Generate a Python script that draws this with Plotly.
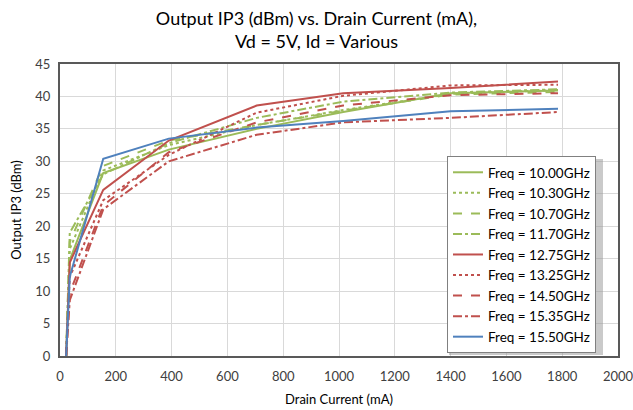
import plotly.graph_objects as go

drain_ma = [22, 35, 155, 390, 705, 1015, 1400, 1785]

series_names = ["Freq = 10.00GHz", "Freq = 10.30GHz", "Freq = 10.70GHz", "Freq = 11.70GHz",
                "Freq = 12.75GHz", "Freq = 13.25GHz", "Freq = 14.50GHz", "Freq = 15.35GHz",
                "Freq = 15.50GHz"]

ip3_1000 = [0, 14.8, 28.2, 31.8, 35.0, 37.6, 40.5, 40.9]
ip3_1030 = [0, 16.5, 28.6, 32.5, 35.6, 37.9, 40.4, 41.0]
ip3_1070 = [0, 17.6, 29.3, 33.2, 35.6, 37.8, 40.3, 40.7]
ip3_1170 = [0, 19.0, 28.0, 32.8, 36.7, 39.2, 40.6, 41.1]
ip3_1275 = [0, 14.4, 25.6, 33.2, 38.6, 40.5, 41.3, 42.3]
ip3_1325 = [0, 12.2, 24.0, 31.0, 37.5, 40.1, 41.7, 41.8]
ip3_1450 = [0, 9.7, 23.2, 31.4, 36.0, 38.6, 40.2, 40.5]
ip3_1535 = [0, 8.6, 22.6, 30.0, 34.1, 36.0, 36.7, 37.6]
ip3_1550 = [0, 12.2, 30.4, 33.5, 35.2, 36.2, 37.7, 38.1]

all_values = [ip3_1000, ip3_1030, ip3_1070, ip3_1170, ip3_1275, ip3_1325, ip3_1450, ip3_1535, ip3_1550]

GREEN = "#9BBB59"
RED = "#C0504D"
BLUE = "#4F81BD"
colors = [GREEN, GREEN, GREEN, GREEN, RED, RED, RED, RED, BLUE]
dashes = ["solid", "dot", "dash", "dashdot", "solid", "dot", "dash", "dashdot", "solid"]

fig = go.Figure()
for name, vals, c, d in zip(series_names, all_values, colors, dashes):
    fig.add_trace(go.Scatter(x=drain_ma, y=vals, mode="lines", name=name,
                             line=dict(color=c, width=2, dash=d)))

FONT = "Lato, Carlito, Calibri, sans-serif"

W, H = 633, 410
L, R, T, B = 60, 15, 64, 54
pw, ph = W - L - R, H - T - B

def px_to_paper(x, y):
    return (x - L) / pw, (H - B - y) / ph

# legend shadow
sx0, sy0 = px_to_paper(449, 355)
sx1, sy1 = px_to_paper(603, 159)
fig.add_shape(type="rect", xref="paper", yref="paper", x0=sx0, y0=sy0, x1=sx1, y1=sy1,
              fillcolor="rgba(150,150,150,0.5)", line=dict(width=0), layer="above")

lx, ly = px_to_paper(447, 156)

fig.update_layout(
    width=W, height=H,
    margin=dict(l=L, r=R, t=T, b=B, autoexpand=False),
    paper_bgcolor="white", plot_bgcolor="white",
    font=dict(family=FONT, size=13, color="#404040"),
    title=dict(text="Output IP3 (dBm) vs. Drain Current (mA),<br>Vd = 5V, Id = Various",
               x=0.5, xanchor="center", y=0.94, yanchor="top",
               font=dict(family=FONT, size=18, color="#000000")),
    showlegend=True,
    legend=dict(x=lx, y=ly, xanchor="left", yanchor="top",
                bgcolor="white", bordercolor="#808080", borderwidth=1,
                font=dict(family=FONT, size=13.5, color="#000000"),
                itemwidth=30, tracegroupgap=0),
)

fig.update_xaxes(range=[0, 2000.01], dtick=200, tick0=0, automargin=False,
                 ticklabeloverflow="allow",
                 showgrid=True, gridcolor="#D9D9D9", gridwidth=1,
                 showline=True, linecolor="#595959", linewidth=2, mirror=True,
                 ticks="outside", ticklen=7, tickcolor="rgba(0,0,0,0)", zeroline=False,
                 tickfont=dict(family=FONT, size=13, color="#404040"),
                 title=dict(text="Drain Current (mA)", standoff=12,
                            font=dict(family=FONT, size=13, color="#000000")))
fig.update_yaxes(range=[0, 45], dtick=5, tick0=0, automargin=False,
                 showgrid=True, gridcolor="#D9D9D9", gridwidth=1,
                 showline=True, linecolor="#595959", linewidth=2, mirror=True,
                 ticks="outside", ticklen=5, tickcolor="rgba(0,0,0,0)", zeroline=False,
                 tickfont=dict(family=FONT, size=13, color="#404040"),
                 title=dict(text="Output IP3 (dBm)", standoff=11,
                            font=dict(family=FONT, size=13, color="#000000")))

fig.write_html("out.html", config={"displayModeBar": False},
               post_script="document.body.style.margin='0';")
